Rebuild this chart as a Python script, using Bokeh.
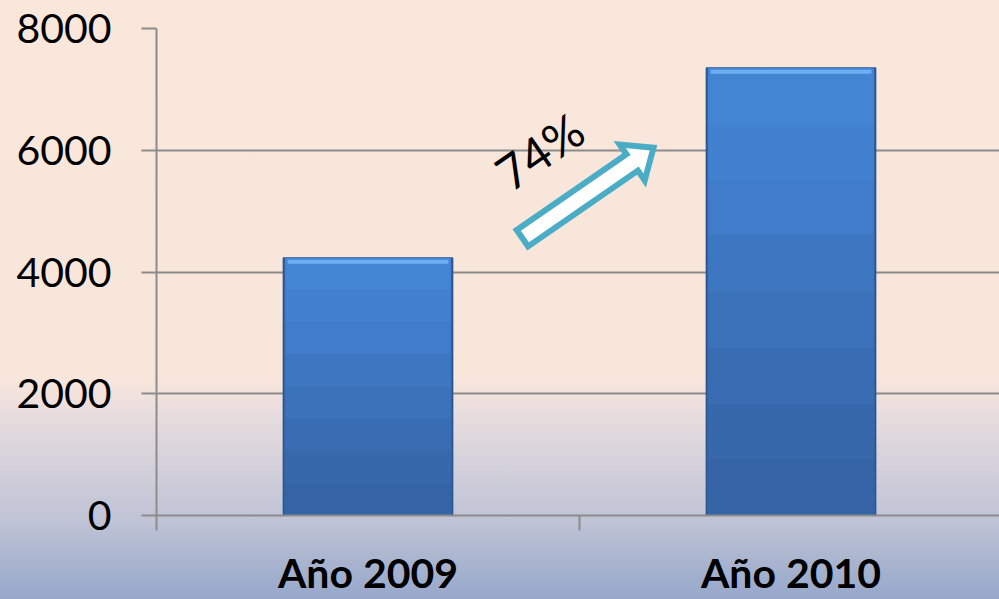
import math
from bokeh.plotting import figure
from bokeh.models import Range1d, FixedTicker, ColumnDataSource
from bokeh.core.properties import value
from bokeh.embed import file_html
from bokeh.resources import INLINE

# ---- data ----
categories = ["Año 2009", "Año 2010"]
values = [4230, 7350]
y_ticks = [0, 2000, 4000, 6000, 8000]
growth_label = "74%"
# arrow annotation (data coordinates: x in category units, y in value units)
arrow_start = (0.865, 4555)
arrow_end = (1.175, 6041)
label_pos = (0.905, 5990)

W, H = 999, 599
LEFT, TOP, BOTTOM = 156, 28, 81
frame_w = W - LEFT
cat_px = 423.0
x_end = frame_w / cat_px

p = figure(width=W, height=H, output_backend="svg", toolbar_location=None,
           x_range=Range1d(0, x_end), y_range=Range1d(0, 8000),
           min_border_left=LEFT, min_border_right=0, min_border_top=TOP,
           min_border_bottom=BOTTOM)
p.background_fill_color = None
p.border_fill_color = None
p.outline_line_color = None
p.styles = {"background": "linear-gradient(to bottom, #FAE7DC 0%, #F9E6DB 63%, #E8DDDE 69%, #D5D2DB 77%, #BFC3D5 87%, #A8B4CF 94%, #97A8CB 100%)"}

grid_col = "#8C8C8C"
# y axis
p.yaxis.ticker = FixedTicker(ticks=y_ticks)
p.yaxis.axis_line_color = grid_col
p.yaxis.axis_line_width = 2
p.yaxis.major_tick_line_color = grid_col
p.yaxis.major_tick_line_width = 2
p.yaxis.major_tick_out = 15
p.yaxis.major_tick_in = 0
p.yaxis.minor_tick_line_color = None
p.yaxis.major_label_text_font = "Lato"
p.yaxis.major_label_text_font_size = "41px"
p.yaxis.major_label_text_color = "black"
p.yaxis.major_label_standoff = 30

p.ygrid.ticker = FixedTicker(ticks=y_ticks)
p.ygrid.grid_line_color = grid_col
p.ygrid.grid_line_width = 2
p.xgrid.grid_line_color = None

# x axis: labels at category centres, separators as minor ticks
centers = [i + 0.5 for i in range(len(categories))]
p.xaxis.ticker = FixedTicker(ticks=centers, minor_ticks=list(range(len(categories) + 1)))
p.xaxis.major_label_overrides = {c: lab for c, lab in zip(centers, categories)}
p.xaxis.axis_line_color = grid_col
p.xaxis.axis_line_width = 2
p.xaxis.major_tick_line_color = None
p.xaxis.major_tick_out = 0
p.xaxis.major_tick_in = 0
p.xaxis.minor_tick_line_color = grid_col
p.xaxis.minor_tick_line_width = 2
p.xaxis.minor_tick_out = 15
p.xaxis.minor_tick_in = 0
p.xaxis.major_label_text_font = "Lato"
p.xaxis.major_label_text_font_style = "bold"
p.xaxis.major_label_text_font_size = "41px"
p.xaxis.major_label_text_color = "black"
p.xaxis.major_label_standoff = 17

# bars
src = ColumnDataSource(dict(x=centers, top=values))
p.vbar(x="x", top="top", width=0.4, source=src, fill_color="#3564A6",
       line_color="#2A5590", line_width=1.5)
# vertical shading of the bars (style only, derived from bar heights)
shade_cols = ["#3768AB", "#396DB3", "#3B72BA", "#3D77C2", "#407CC9", "#4281CF", "#4485D3"]
n = len(shade_cols)
for i, col in enumerate(shade_cols):
    p.vbar(x=centers, bottom=[v * (i + 1) / (n + 1) for v in values],
           top=[v * (i + 2) / (n + 1) for v in values], width=0.4 - 0.008,
           fill_color=col, line_color=None)
# top bevel highlight
p.segment(x0=[c - 0.19 for c in centers], x1=[c + 0.19 for c in centers],
          y0=[v - 60 for v in values], y1=[v - 60 for v in values],
          line_color="#6CB0F2", line_width=4)

# arrow polygon computed in pixel space then converted
sx = cat_px
sy = (H - TOP - BOTTOM) / 8000.0
x0p, y0p = arrow_start[0] * sx, arrow_start[1] * sy
x1p, y1p = arrow_end[0] * sx, arrow_end[1] * sy
L = math.hypot(x1p - x0p, y1p - y0p)
ux, uy = (x1p - x0p) / L, (y1p - y0p) / L
nx, ny = -uy, ux
bw, hw, hl = 10, 22, 26
pts = [(0, -bw), (L - hl, -bw), (L - hl, -hw), (L, 0), (L - hl, hw), (L - hl, bw), (0, bw)]
xs = [(x0p + a * ux + b * nx) / sx for a, b in pts]
ys = [(y0p + a * uy + b * ny) / sy for a, b in pts]
p.patch(xs, ys, fill_color="white", line_color="#4BACC6", line_width=6, line_join="miter")

ang = math.atan2(y1p - y0p, x1p - x0p)
p.text(x=[label_pos[0]], y=[label_pos[1]], text=[growth_label], angle=ang,
       text_font=value("Lato"), text_font_size="48px", text_color="black",
       text_align="center", text_baseline="middle")

open("out.html", "w").write(file_html(p, INLINE))
